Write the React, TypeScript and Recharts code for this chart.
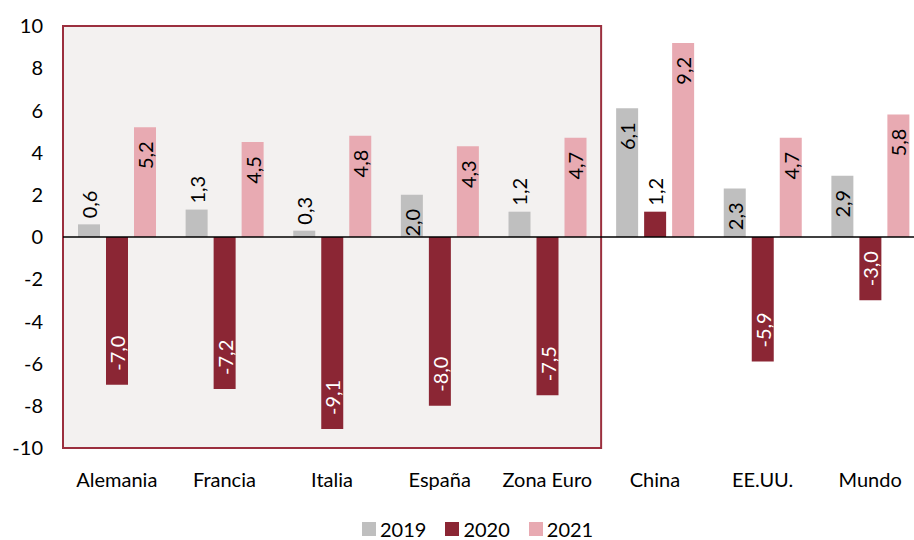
import { Bar, BarChart, LabelList, ReferenceArea, ReferenceLine, XAxis, YAxis } from "recharts";

const regions = ["Alemania", "Francia", "Italia", "España", "Zona Euro", "China", "EE.UU.", "Mundo"];
const gdp2019 = [0.6, 1.3, 0.3, 2.0, 1.2, 6.1, 2.3, 2.9];
const gdp2020 = [-7.0, -7.2, -9.1, -8.0, -7.5, 1.2, -5.9, -3.0];
const gdp2021 = [5.2, 4.5, 4.8, 4.3, 4.7, 9.2, 4.7, 5.8];
const yTicks = [-10, -8, -6, -4, -2, 0, 2, 4, 6, 8, 10];

const FONT = "Lato, 'Open Sans', sans-serif";
const C19 = "#bfbfbf";
const C20 = "#8b2634";
const C21 = "#e8aab2";

const rows = regions.map((r, i) => ({
  name: r,
  y2019: gdp2019[i],
  y2020: gdp2020[i],
  y2021: gdp2021[i],
}));

const fmt = (v: number) => v.toFixed(1).replace(".", ",");

// rough text length for 20px Lato
function textLen(s: string) {
  let w = 0;
  for (const ch of s) w += ch === "," ? 4.6 : ch === "-" ? 6.8 : 11.6;
  return w;
}

function ValueLabel(props: any) {
  const x = Number(props.x);
  const y = Number(props.y);
  const w = Number(props.width);
  const h = Number(props.height);
  const v = Number(props.value);
  const cx = x + w / 2;
  const top = Math.min(y, y + h);
  const bottom = Math.max(y, y + h);
  const text = fmt(v);
  const len = textLen(text);
  const pad = 14;
  let ty: number;
  let anchor: "start" | "end";
  let fill = "#000";
  if (v >= 0) {
    if (bottom - top >= len + pad) {
      ty = top + pad;
      anchor = "end";
    } else {
      ty = top - 6;
      anchor = "start";
    }
  } else {
    ty = bottom - pad;
    anchor = "start";
    fill = "#fff";
  }
  return (
    <text
      x={cx}
      y={ty}
      transform={`rotate(-90 ${cx} ${ty})`}
      textAnchor={anchor}
      dominantBaseline="central"
      fontSize={20}
      fontFamily={FONT}
      fill={fill}
    >
      {text}
    </text>
  );
}

const legendItems = [
  { label: "2019", color: C19 },
  { label: "2020", color: C20 },
  { label: "2021", color: C21 },
];

export default function App() {
  return (
    <div
      style={{
        position: "absolute",
        left: 0,
        top: 0,
        width: 914,
        height: 540,
        overflow: "hidden",
        background: "#fff",
        fontFamily: FONT,
      }}
    >
      <BarChart
        width={924}
        height={540}
        data={rows}
        margin={{ top: 26, right: 0, bottom: 52, left: 0 }}
        barSize={22}
        barGap={6}
      >
        <XAxis
          dataKey="name"
          axisLine={false}
          tickLine={false}
          tickSize={0}
          tickMargin={25}
          height={40}
          interval={0}
          tick={{ fill: "#000", fontSize: 20, fontFamily: FONT }}
        />
        <YAxis
          domain={[-10, 10]}
          ticks={yTicks}
          width={63}
          axisLine={false}
          tickLine={false}
          tickSize={0}
          tickMargin={20}
          interval={0}
          tick={{ fill: "#000", fontSize: 20, fontFamily: FONT }}
        />
        <ReferenceArea
          x1="Alemania"
          x2="Zona Euro"
          y1={-10}
          y2={10}
          fill="#f3f1f0"
          fillOpacity={1}
          stroke="#9b2f3e"
          strokeWidth={2}
        />
        <Bar dataKey="y2019" fill={C19} isAnimationActive={false}>
          <LabelList dataKey="y2019" content={ValueLabel} />
        </Bar>
        <Bar dataKey="y2020" fill={C20} isAnimationActive={false}>
          <LabelList dataKey="y2020" content={ValueLabel} />
        </Bar>
        <Bar dataKey="y2021" fill={C21} isAnimationActive={false}>
          <LabelList dataKey="y2021" content={ValueLabel} />
        </Bar>
        <ReferenceLine y={0} stroke="#000" strokeWidth={1.6} />
      </BarChart>
      <div
        style={{
          position: "absolute",
          left: 362,
          top: 519,
          display: "flex",
          alignItems: "center",
          fontSize: 20,
          color: "#000",
          lineHeight: "20px",
        }}
      >
        {legendItems.map((it) => (
          <div key={it.label} style={{ display: "flex", alignItems: "center", marginRight: 19 }}>
            <span style={{ width: 14, height: 14, background: it.color, marginRight: 4 }} />
            <span>{it.label}</span>
          </div>
        ))}
      </div>
    </div>
  );
}
